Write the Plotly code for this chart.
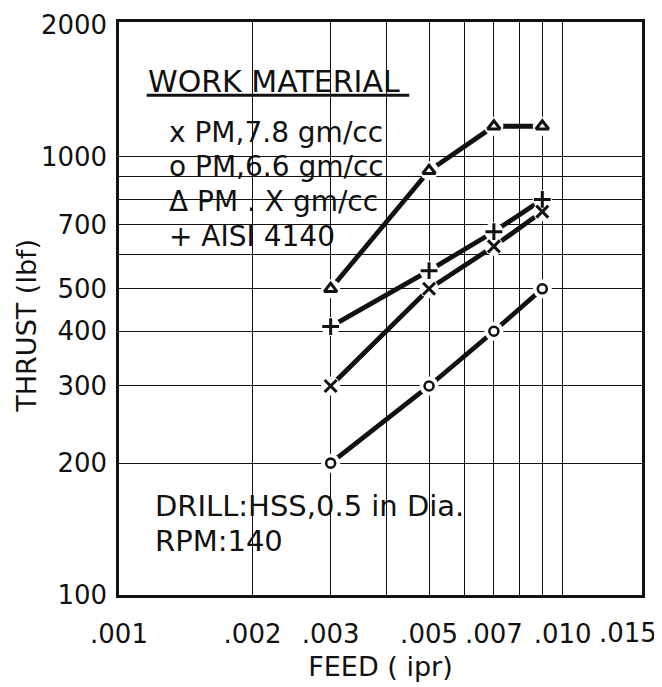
"""Drilling thrust vs feed for PM and wrought steels (log-log)."""

import math

import plotly.graph_objects as go

# ---- data ----
feed = [0.003, 0.005, 0.007, 0.009]

pm_78 = [300, 500, 625, 750]      # x  PM, 7.8 gm/cc
pm_66 = [200, 300, 400, 500]      # o  PM, 6.6 gm/cc
pm_x = [500, 930, 1175, 1175]     # triangle  PM, X gm/cc
aisi_4140 = [410, 550, 675, 800]  # +  AISI 4140

x_tickvals = [0.001, 0.002, 0.003, 0.005, 0.007, 0.010, 0.015]
x_ticktext = [".001", ".002", ".003", ".005", ".007", ".010", ".015"]
y_tickvals = [100, 200, 300, 400, 500, 700, 1000, 2000]
y_ticktext = ["100", "200", "300", "400", "500", "700", "1000", "2000"]

x_grid = [0.002, 0.003, 0.004, 0.005, 0.006, 0.007, 0.008, 0.009, 0.010]
y_grid = [200, 300, 400, 500, 600, 700, 800, 900, 1000]

legend_rows = [
    "x PM,7.8 gm/cc",
    "o PM,6.6 gm/cc",
    "\u0394 PM . X gm/cc",
    "+ AISI 4140",
]

FONT = "DejaVu Sans"
INK = "#111111"

series = [
    (pm_78, "x-thin-open", 12, 3),
    (pm_66, "circle-open", 9, 2.6),
    (pm_x, "triangle-up-open", 11, 3),
    (aisi_4140, "cross-thin-open", 12, 3),
]

fig = go.Figure()

# Thick connecting lines
for ys, *_ in series:
    fig.add_trace(go.Scatter(
        x=feed, y=ys, mode="lines",
        line=dict(color=INK, width=4.8),
        hoverinfo="skip",
    ))

# White halo so the lines stop short of the symbols
for ys, *_ in series:
    fig.add_trace(go.Scatter(
        x=feed, y=ys, mode="markers",
        marker=dict(symbol="circle", size=19, color="white"),
        hoverinfo="skip",
    ))

# Symbols
for ys, sym, size, lw in series:
    fig.add_trace(go.Scatter(
        x=feed, y=ys, mode="markers",
        marker=dict(symbol=sym, size=size, color=INK,
                    line=dict(color=INK, width=lw)),
    ))

# White boxes behind the text blocks (hide the grid, stay under the data)
fig.add_shape(type="rect", xref="paper", yref="paper", layer="between",
              x0=0.07, x1=0.534, y0=0.605, y1=0.94,
              fillcolor="white", line_width=0)
fig.add_shape(type="rect", xref="paper", yref="paper", layer="between",
              x0=0.06, x1=0.659, y0=0.07, y1=0.186,
              fillcolor="white", line_width=0)

# Legend block
fig.add_annotation(text="WORK MATERIAL", xref="paper", yref="paper",
                   x=0.052, y=0.896, xanchor="left", yanchor="middle",
                   showarrow=False, font=dict(family=FONT, size=30, color=INK))
fig.add_shape(type="line", xref="paper", yref="paper",
              x0=0.053, x1=0.555, y0=0.872, y1=0.872,
              line=dict(color=INK, width=3))
for i, row in enumerate(legend_rows):
    fig.add_annotation(text=row, xref="paper", yref="paper",
                       x=0.092, y=0.808 - i * 0.0605,
                       xanchor="left", yanchor="middle", showarrow=False,
                       font=dict(family=FONT, size=28, color=INK))

# Test conditions
fig.add_annotation(text="DRILL:HSS,0.5 in Dia.", xref="paper", yref="paper",
                   x=0.065, y=0.155, xanchor="left", yanchor="middle",
                   showarrow=False, font=dict(family=FONT, size=29, color=INK))
fig.add_annotation(text="RPM:140", xref="paper", yref="paper",
                   x=0.065, y=0.094, xanchor="left", yanchor="middle",
                   showarrow=False, font=dict(family=FONT, size=29, color=INK))

# last x label sits on the right border; plotly would hide it past the div,
# so draw it as an annotation pulled slightly inwards like the original
fig.add_annotation(text=x_ticktext[-1], xref="x", yref="paper",
                   x=math.log10(x_tickvals[-1]), y=0, yanchor="middle",
                   xshift=-13, yshift=-38, showarrow=False,
                   font=dict(family=FONT, size=26, color=INK))

# y title sits a bit below the middle of the axis in the original
fig.add_annotation(text="THRUST (lbf)", textangle=-90, xref="paper", yref="paper",
                   x=0, y=0.47, xanchor="center", yanchor="middle",
                   xshift=-92, showarrow=False,
                   font=dict(family=FONT, size=27, color=INK))

fig.update_xaxes(
    type="log",
    range=[-3, -1.821],
    tickvals=x_tickvals[:-1], ticktext=x_ticktext[:-1],
    ticks="", showgrid=False, zeroline=False, automargin=False,
    ticklabelstandoff=14,
    minor=dict(tickvals=x_grid, showgrid=True, gridcolor=INK, gridwidth=1.4, ticks=""),
    showline=True, linecolor=INK, linewidth=2.5, mirror=True,
    tickfont=dict(family=FONT, size=26, color=INK),
    title=dict(text="FEED ( ipr)", standoff=10,
               font=dict(family=FONT, size=27, color=INK)),
)
fig.update_yaxes(
    type="log",
    range=[2, 3.308],
    tickvals=y_tickvals, ticktext=y_ticktext,
    ticks="", showgrid=False, zeroline=False, automargin=False,
    ticklabelstandoff=4,
    minor=dict(tickvals=y_grid, showgrid=True, gridcolor=INK, gridwidth=1.4, ticks=""),
    showline=True, linecolor=INK, linewidth=2.5, mirror=True,
    tickfont=dict(family=FONT, size=26, color=INK),
)

# page body adds an 8 px margin, so the figure is 8 px smaller each way
fig.update_layout(
    width=654, height=679,
    showlegend=False,
    plot_bgcolor="white", paper_bgcolor="white",
    margin=dict(l=111, r=20, t=14, b=92),
)

fig.write_html("out.html")
